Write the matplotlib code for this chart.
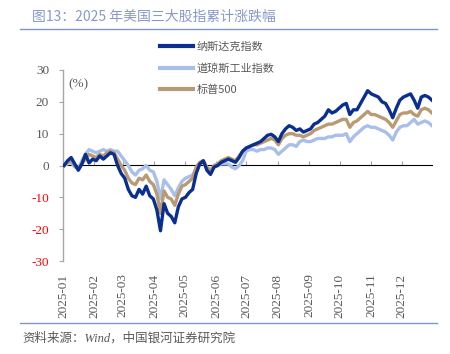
import matplotlib
matplotlib.use("Agg")
import matplotlib.pyplot as plt
from matplotlib.lines import Line2D
import pandas as pd

# ---------------- data ----------------
title = "图13：2025 年美国三大股指累计涨跌幅"
source = "资料来源：Wind，中国银河证券研究院"
series_names = ["纳斯达克指数", "道琼斯工业指数", "标普500"]
month_labels = ["2025-01", "2025-02", "2025-03", "2025-04", "2025-05", "2025-06",
                "2025-07", "2025-08", "2025-09", "2025-10", "2025-11", "2025-12"]
y_ticks = [-30, -20, -10, 0, 10, 20, 30]

nasdaq = [0, 1.5, 2.5, 0.5, -1.5, 0.5, 3.5, 0.8, 2, 1.5,
          3, 2, 3, 4, 3.5, 0, -2.5, -4, -7.5, -9.5,
          -10, -7.5, -9, -6.5, -9.5, -10.5, -14, -20.5, -12, -15,
          -16, -18, -13, -10.5, -10, -8.5, -7.5, -2.5, 0.5, 1.5,
          -1.5, -2.8, -0.5, 0, 1, 1.5, 2, 1.5, 1, 2.5,
          4.5, 5.5, 6, 6.5, 7, 7.5, 8.5, 9.5, 9.8, 9,
          7.5, 10, 11.5, 12.5, 12, 11, 11.5, 10.5, 11, 11.5,
          13, 13.5, 14.5, 15.5, 17.5, 16.5, 17, 18, 19, 19.5,
          16, 17.5, 17.5, 19.5, 21.5, 23.5, 22.5, 22, 21.5, 20,
          19.5, 17.5, 15, 18, 20.5, 21.5, 22, 22.5, 20.5, 18,
          21.5, 22, 21.5, 20.5]

dow = [0, 0.5, 1, -0.5, -1, 1.5, 3.5, 5, 4.5, 4,
       4.5, 5, 4.5, 5, 4.5, 4.5, 3, 1.5, 0, -2,
       -3, -1.5, -1, 0, -1.5, -2, -5, -10.5, -4.5, -6,
       -7.5, -9.5, -7, -5, -4, -3.5, -3, -1, 0.5, 1,
       -1, -2.5, -0.5, 0, 0.5, 0.5, 0.5, -0.5, -1, 0,
       1.5, 4.5, 5, 5, 4.5, 5, 5, 5.5, 5.5, 5,
       3.5, 4.5, 5.5, 6.5, 6.5, 6, 7.5, 8, 7.5, 7.5,
       8, 8.5, 8.5, 8.5, 9, 9, 9.5, 9.5, 9.5, 10,
       7.5, 9, 10, 11, 12, 12.5, 12, 12, 11.5, 11,
       10.5, 9.5, 8, 10.5, 12, 12.5, 12.5, 13.5, 14.5, 13,
       13.5, 14, 13.5, 12.5]

sp500 = [0, 1, 1.5, 0, -1, 0.5, 2, 3.5, 3, 2.5,
         3.5, 3, 4, 4.5, 4, 2, 0, -1.5, -4, -5.5,
         -6, -4, -4.5, -3, -5, -6, -9, -15, -8, -10,
         -10.5, -12.5, -9, -6.5, -6, -5, -4, -0.5, 1, 1.5,
         -0.5, -1.5, 0, 0.5, 1.5, 2, 2.5, 2, 1.5, 3,
         4.5, 5.5, 6, 6.5, 6.5, 7, 7.5, 8, 8.5, 8,
         6.5, 8.5, 9.5, 10, 10, 9.5, 9.5, 9, 9.5, 10,
         11, 11.5, 12, 12.5, 13, 13, 13.5, 14, 14.5, 14.5,
         12, 13.5, 14, 15, 16, 17, 16, 16, 15.5, 15,
         14.5, 13.5, 12, 14, 16, 16.5, 16.5, 17, 16, 15.5,
         17.5, 18, 17.5, 16.5]

dates = pd.date_range("2025-01-02", "2025-12-31", periods=len(nasdaq))
month_ticks = pd.to_datetime([m + "-01" for m in month_labels])

# ---------------- style ----------------
c_nas = "#0b2f8e"
c_dow = "#a9bfe9"
c_sp = "#b89b73"
grey = "#595959"
axis_grey = "#a6a6a6"
title_color = "#8799c9"
rule_color = "#7f96cc"
num_font = ["Liberation Serif", "Noto Sans CJK SC"]
cjk_font = ["Noto Sans CJK SC", "DejaVu Sans"]

fig = plt.figure(figsize=(4.5, 3.54), dpi=100)
ax = fig.add_axes([63 / 450, 1 - 261 / 354, 369 / 450, 191 / 354])

ax.plot(dates, dow, color=c_dow, lw=2.4, solid_joinstyle="round", zorder=2)
ax.plot(dates, sp500, color=c_sp, lw=2.4, solid_joinstyle="round", zorder=3)
ax.plot(dates, nasdaq, color=c_nas, lw=2.4, solid_joinstyle="round", zorder=4)

ax.set_xlim(pd.Timestamp("2025-01-01"), pd.Timestamp("2025-12-31"))
ax.set_ylim(-30, 30)

for s in ["top", "right", "bottom"]:
    ax.spines[s].set_visible(False)
ax.spines["left"].set_color(axis_grey)
ax.spines["left"].set_linewidth(1.0)

ax.set_yticks(y_ticks)
ax.set_yticklabels([str(v) for v in y_ticks], fontfamily=num_font, fontsize=9.5)
for v, lab in zip(y_ticks, ax.get_yticklabels()):
    lab.set_color("#ff0000" if v < 0 else grey)
ax.tick_params(axis="y", length=3, color=axis_grey, pad=7)

ax.set_xticks(month_ticks)
ax.set_xticklabels(month_labels, rotation=90, fontfamily=num_font, fontsize=9.5, color=grey)
ax.tick_params(axis="x", length=0, pad=9)

# zero axis line with month tick marks (no labels)
sec = ax.secondary_xaxis(0.5)
sec.set_xticks(month_ticks, labels=[""] * len(month_ticks))
sec.tick_params(axis="x", length=3, color=axis_grey)
sec.spines["bottom"].set_color(axis_grey)
sec.spines["bottom"].set_linewidth(1.0)

ax.text(0.014, 0.955, "(%)", transform=ax.transAxes, fontfamily=num_font,
        fontsize=9.5, color=grey, va="top", ha="left")

handles = [Line2D([], [], color=c_nas, lw=3),
           Line2D([], [], color=c_dow, lw=3),
           Line2D([], [], color=c_sp, lw=3)]
fig.legend(handles, series_names, loc="upper left",
           bbox_to_anchor=(160 / 450, 1 - 42 / 354), frameon=False,
           prop={"family": cjk_font, "size": 8}, handlelength=3.0,
           handletextpad=0.3, labelspacing=0.95, borderpad=0, borderaxespad=0,
           labelcolor=grey)

# title, rules and source
fig.text(32 / 450, 1 - 17 / 354, title, fontfamily=cjk_font, fontsize=10,
         color=title_color, va="center", ha="left")
fig.add_artist(Line2D([20 / 450, 437 / 450], [1 - 29 / 354, 1 - 29 / 354],
                      color=rule_color, lw=1.0, transform=fig.transFigure))
fig.add_artist(Line2D([20 / 450, 437 / 450], [1 - 323 / 354, 1 - 323 / 354],
                      color=rule_color, lw=1.0, transform=fig.transFigure))
fig.text(22 / 450, 1 - 338 / 354, source, fontfamily=num_font, fontsize=9,
         style="italic", color=grey, va="center", ha="left")

fig.savefig("out.png", dpi=100)
